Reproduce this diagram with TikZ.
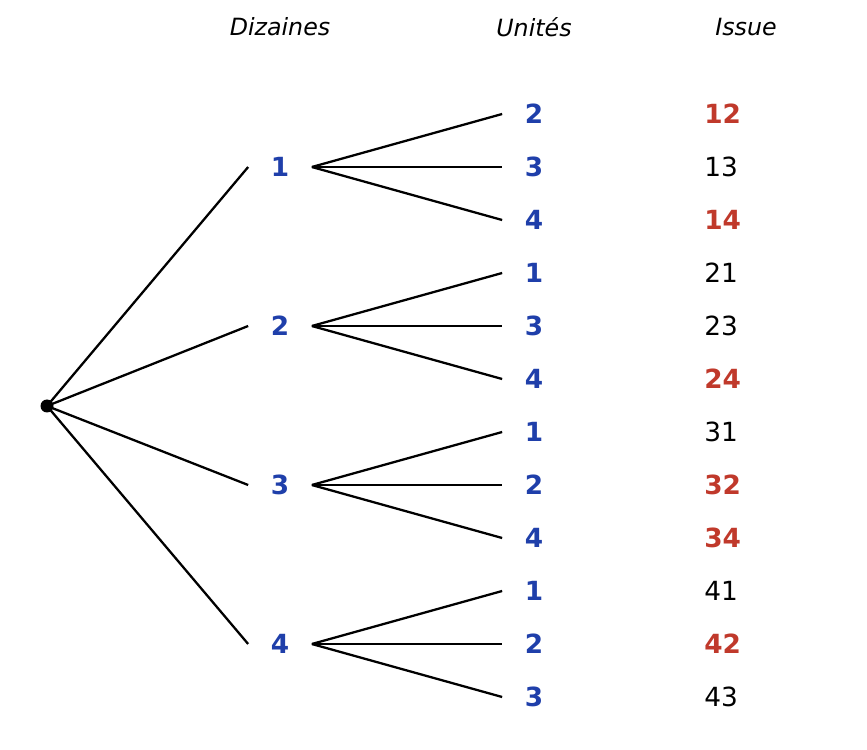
\documentclass[tikz,border=0pt]{standalone}
\usepackage{fontspec}
\setmainfont{DejaVu Sans}
\definecolor{tblue}{HTML}{1F3FAA}
\definecolor{tred}{HTML}{C0392B}
\tikzset{
    HD/.style ={font=\itshape\fontsize{13.5}{16}\selectfont},
    DG/.style ={text=tblue,font=\bfseries\fontsize{15}{18}\selectfont,minimum width=1.26cm,inner sep=0pt},
    OK/.style ={anchor=west,inner sep=0pt,font=\bfseries\fontsize{15}{18}\selectfont,text=tred},
    NO/.style ={anchor=west,inner sep=0pt,font=\fontsize{15}{18}\selectfont},
    BR/.style ={line width=1.3pt}}
\begin{document}
\begin{tikzpicture}[x=0.02cm,y=-0.02cm]
    \useasboundingbox (0,0) rectangle (867,750);
    \node[HD] (h1) at (280,27){Dizaines};
    \node[HD] (h2) at (534,27){Unités};
    \node[HD] (h3) at (746,27){Issue};
    \fill (47,406) circle (6.5) coordinate (r);
    \node[DG] (1) at (280,167){1};
    \node[DG] (2) at (280,326){2};
    \node[DG] (3) at (280,485){3};
    \node[DG] (4) at (280,644){4};
    \foreach \t in {1,2,3,4}
        \draw[BR] (r) -- (\t.west);
    % units and outcomes
    \foreach \i/\t/\u/\s in {1/1/2/OK,2/1/3/NO,3/1/4/OK,4/2/1/NO,5/2/3/NO,6/2/4/OK,
                             7/3/1/NO,8/3/2/OK,9/3/4/OK,10/4/1/NO,11/4/2/OK,12/4/3/NO}{
        \node[DG] (u\i) at (534,61+53*\i){\u};
        \node[\s] (o\i) at (704,61+53*\i){\t\u};
        \draw[BR] (\t.east) -- (u\i.west);
    }
\end{tikzpicture}
\end{document}
